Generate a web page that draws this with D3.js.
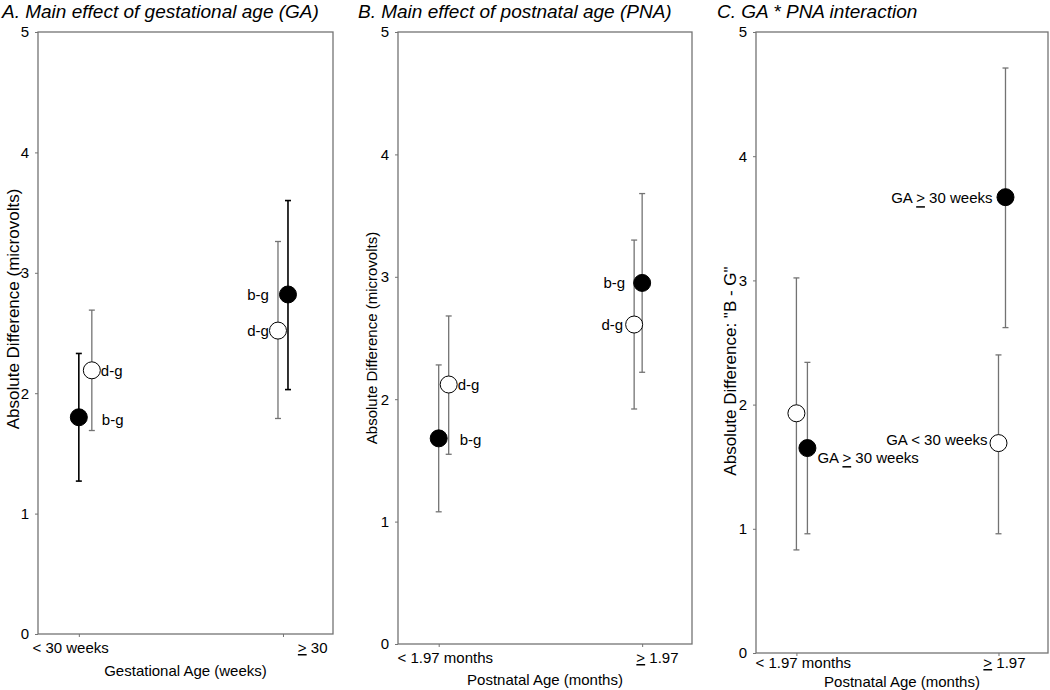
<!DOCTYPE html>
<html><head><meta charset="utf-8">
<script src="https://cdn.jsdelivr.net/npm/d3@7"></script>
<style>
body{margin:0;background:#fff;}
text{font-family:"Liberation Sans",Arial,sans-serif;fill:#000;}
</style>
</head><body>
<svg id="chart" width="1050" height="690"></svg>
<script>
// ---------------- data ----------------
const yTicks = [0, 1, 2, 3, 4, 5];

// Panel A: main effect of gestational age
const catsA = ["< 30 weeks", "≥ 30"];
const aBgMean = [1.80, 2.82], aBgLo = [1.27, 2.03], aBgHi = [2.33, 3.60];
const aDgMean = [2.19, 2.52], aDgLo = [1.69, 1.79], aDgHi = [2.69, 3.26];
const aBgLabels = ["b-g", "b-g"], aDgLabels = ["d-g", "d-g"];

// Panel B: main effect of postnatal age
const catsB = ["< 1.97 months", "≥ 1.97"];
const bBgMean = [1.68, 2.95], bBgLo = [1.08, 2.22], bBgHi = [2.28, 3.68];
const bDgMean = [2.12, 2.61], bDgLo = [1.55, 1.92], bDgHi = [2.68, 3.30];
const bBgLabels = ["b-g", "b-g"], bDgLabels = ["d-g", "d-g"];

// Panel C: GA * PNA interaction
const catsC = ["< 1.97 months", "≥ 1.97"];
const cLtMean = [1.93, 1.69], cLtLo = [0.83, 0.96], cLtHi = [3.02, 2.40];
const cGeMean = [1.65, 3.67], cGeLo = [0.96, 2.62], cGeHi = [2.34, 4.71];
const cLtLabels = ["", "GA < 30 weeks"], cGeLabels = ["GA ≥ 30 weeks", "GA ≥ 30 weeks"];

// ---------------- layout ----------------
const GRAY = "#737373";
const R = 8.5;
const panels = [
  { title: "A. Main effect of gestational age (GA)", titleX: 2,
    x0: 38, x1: 333, yTop: 32, yBot: 634, cats: catsA,
    xTitle: "Gestational Age (weeks)", xTitleY: 672, xLabelY: 653, leftLabelShift: -6, rightLabelShift: -6,
    yTitle: "Absolute Difference (microvolts)", yTitleX: 13, yTitleY: 309, yTitleSize: 17,
    series: [
      { mean: aBgMean, lo: aBgLo, hi: aBgHi, labels: aBgLabels, filled: true, bar: "#000", barW: 1.6,
        dodge: [0, 5], lab: [{dx: 23, dy: 2, a: "start"}, {dx: -19, dy: 0, a: "end"}] },
      { mean: aDgMean, lo: aDgLo, hi: aDgHi, labels: aDgLabels, filled: false, bar: GRAY, barW: 1.3,
        dodge: [13, -5], lab: [{dx: 9, dy: 0, a: "start"}, {dx: -9, dy: 0, a: "end"}] }
    ] },
  { title: "B. Main effect of postnatal age (PNA)", titleX: 358,
    x0: 398, x1: 692, yTop: 32, yBot: 644, cats: catsB,
    xTitle: "Postnatal Age (months)", xTitleY: 681, xLabelY: 663, leftLabelShift: -1, rightLabelShift: -14,
    yTitle: "Absolute Difference (microvolts)", yTitleX: 371, yTitleY: 338, yTitleSize: 15,
    series: [
      { mean: bBgMean, lo: bBgLo, hi: bBgHi, labels: bBgLabels, filled: true, bar: GRAY, barW: 1.3,
        dodge: [0, 0], lab: [{dx: 21, dy: 1, a: "start"}, {dx: -17, dy: 0, a: "end"}] },
      { mean: bDgMean, lo: bDgLo, hi: bDgHi, labels: bDgLabels, filled: false, bar: GRAY, barW: 1.3,
        dodge: [10, -8], lab: [{dx: 9, dy: 0, a: "start"}, {dx: -11, dy: 0, a: "end"}] }
    ] },
  { title: "C. GA * PNA interaction", titleX: 717,
    x0: 756, x1: 1048, yTop: 32, yBot: 653, cats: catsC,
    xTitle: "Postnatal Age (months)", xTitleY: 683, xLabelY: 668, leftLabelShift: -1, rightLabelShift: -23,
    yTitle: "Absolute Difference: \"B - G\"", yTitleX: 730, yTitleY: 371, yTitleSize: 17,
    series: [
      { mean: cLtMean, lo: cLtLo, hi: cLtHi, labels: cLtLabels, filled: false, bar: GRAY, barW: 1.3,
        dodge: [0, 0], lab: [{dx: 10, dy: 0, a: "start"}, {dx: -11, dy: -4, a: "end"}] },
      { mean: cGeMean, lo: cGeLo, hi: cGeHi, labels: cGeLabels, filled: true, bar: GRAY, barW: 1.3,
        dodge: [11, 7], lab: [{dx: 10, dy: 9, a: "start"}, {dx: -13, dy: 0, a: "end"}] }
    ] }
];

// write text, rendering "≥" as an underlined ">"
function richText(sel, str) {
  sel.text(null);
  const i = str.indexOf("≥");
  if (i < 0) { sel.text(str); return; }
  if (i > 0) sel.append("tspan").text(str.slice(0, i));
  sel.append("tspan").attr("text-decoration", "underline").text(">");
  sel.append("tspan").text(str.slice(i + 1));
}

const svg = d3.select("#chart");

panels.forEach(p => {
  const g = svg.append("g");
  const x = d3.scaleLinear().domain([-0.2, 1.245]).range([p.x0, p.x1]);
  const y = d3.scaleLinear().domain([0, 5]).range([p.yBot, p.yTop]);

  // title
  g.append("text").attr("x", p.titleX).attr("y", 18)
    .attr("font-size", 19).attr("font-style", "italic").text(p.title);

  // frame
  g.append("rect").attr("x", p.x0).attr("y", p.yTop)
    .attr("width", p.x1 - p.x0).attr("height", p.yBot - p.yTop)
    .attr("fill", "none").attr("stroke", GRAY).attr("stroke-width", 1.3);

  // y axis
  const ya = g.append("g").attr("transform", `translate(${p.x0},0)`)
    .call(d3.axisLeft(y).tickValues(yTicks).tickFormat(d3.format("d")).tickSize(3).tickPadding(6));
  ya.select(".domain").remove();
  ya.selectAll("line").attr("stroke", GRAY);
  ya.selectAll("text").attr("font-size", 15).attr("font-family", "Liberation Sans, Arial, sans-serif");

  // x axis
  const xa = g.append("g").attr("transform", `translate(0,${p.yBot})`)
    .call(d3.axisBottom(x).tickValues([0, 1]).tickFormat((d, i) => p.cats[i]).tickSize(3).tickPadding(6));
  xa.select(".domain").remove();
  xa.selectAll("line").attr("stroke", GRAY);
  xa.selectAll("text").attr("font-size", 15).attr("font-family", "Liberation Sans, Arial, sans-serif")
    .attr("dy", null).attr("y", p.xLabelY - p.yBot)
    .each(function (d, i) {
      const t = d3.select(this);
      richText(t, p.cats[i]);
      if (i === 0) t.attr("text-anchor", "start").attr("x", p.x0 + p.leftLabelShift - x(d));
      else t.attr("text-anchor", "end").attr("x", p.x1 + p.rightLabelShift - x(d));
    });

  // axis titles
  g.append("text").attr("x", (p.x0 + p.x1) / 2).attr("y", p.xTitleY)
    .attr("text-anchor", "middle").attr("dominant-baseline", "middle")
    .attr("font-size", 15).text(p.xTitle);
  g.append("text").attr("transform", `translate(${p.yTitleX},${p.yTitleY}) rotate(-90)`)
    .attr("text-anchor", "middle").attr("dominant-baseline", "central")
    .attr("font-size", p.yTitleSize).text(p.yTitle);

  // error bars
  p.series.forEach(s => {
    const idx = d3.range(s.mean.length);
    const px = i => x(i) + s.dodge[i];
    const eb = g.append("g");
    eb.selectAll("line.v").data(idx).join("line")
      .attr("x1", px).attr("x2", px)
      .attr("y1", i => y(s.lo[i])).attr("y2", i => y(s.hi[i]))
      .attr("stroke", s.bar).attr("stroke-width", s.barW);
    ["lo", "hi"].forEach(k => {
      eb.selectAll("line." + k).data(idx).join("line")
        .attr("x1", i => px(i) - 3).attr("x2", i => px(i) + 3)
        .attr("y1", i => y(s[k][i])).attr("y2", i => y(s[k][i]))
        .attr("stroke", s.bar).attr("stroke-width", s.barW);
    });
  });

  // markers and labels
  p.series.forEach(s => {
    const idx = d3.range(s.mean.length);
    const px = i => x(i) + s.dodge[i];
    g.append("g").selectAll("circle").data(idx).join("circle")
      .attr("cx", px).attr("cy", i => y(s.mean[i])).attr("r", R)
      .attr("fill", s.filled ? "#000" : "#fff").attr("stroke", "#000").attr("stroke-width", 1);
    g.append("g").selectAll("text").data(idx.filter(i => s.labels[i])).join("text")
      .attr("x", i => px(i) + s.lab[i].dx).attr("y", i => y(s.mean[i]) + s.lab[i].dy)
      .attr("text-anchor", i => s.lab[i].a).attr("dominant-baseline", "central")
      .attr("font-size", 15)
      .each(function (i) { richText(d3.select(this), s.labels[i]); });
  });
});
</script>
</body></html>
